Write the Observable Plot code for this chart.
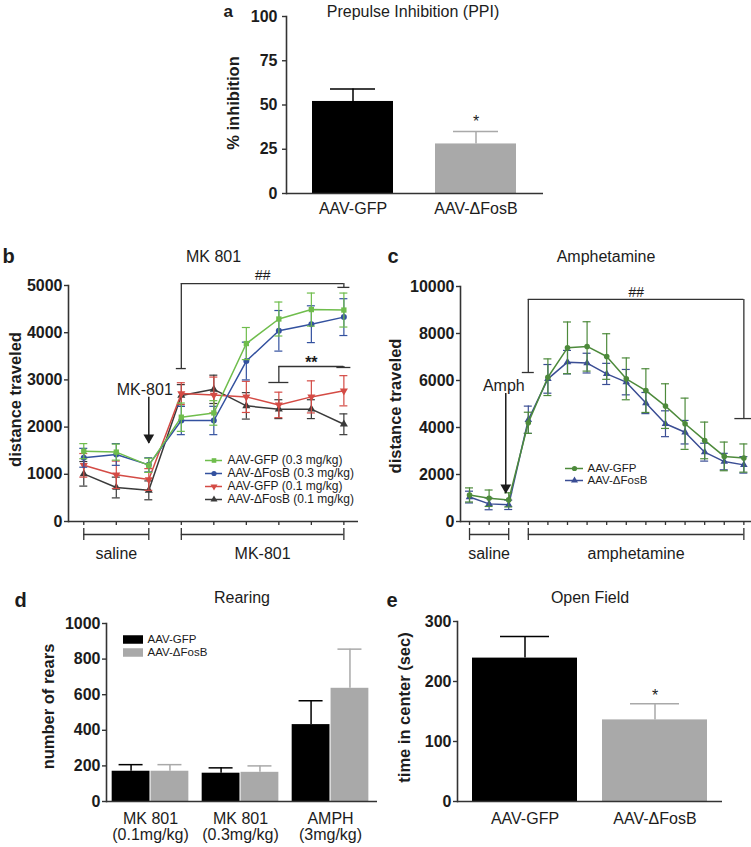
<!DOCTYPE html>
<html><head><meta charset="utf-8">
<script src="https://cdn.jsdelivr.net/npm/d3@7"></script>
<script src="https://cdn.jsdelivr.net/npm/@observablehq/plot@0.6"></script>
<style>
html,body{margin:0;padding:0;background:#fff;}
#fig{position:relative;width:751px;height:847px;overflow:hidden;background:#fff;}
#fig svg{position:absolute;overflow:visible;}
</style></head><body><div id="fig"></div>
<script>
// ================= DATA =================
// (a) Prepulse inhibition
const ppiGroups = ["AAV-GFP", "AAV-ΔFosB"];
const ppiMean = [52, 28];
const ppiSem = [7, 7];
const ppiTicks = [0, 25, 50, 75, 100];
const ppiStars = ["AAV-ΔFosB"];

// (b) MK 801 locomotion
const mkTime = [1, 2, 3, 4, 5, 6, 7, 8, 9];
const mkSeries = ["AAV-GFP (0.3 mg/kg)", "AAV-ΔFosB (0.3 mg/kg)", "AAV-GFP (0.1 mg/kg)", "AAV-ΔFosB (0.1 mg/kg)"];
const mkGfp03 = [1490, 1470, 1190, 2210, 2300, 3770, 4290, 4490, 4480];
const mkGfp03Sem = [160, 170, 150, 300, 260, 340, 360, 350, 360];
const mkFos03 = [1350, 1420, 1200, 2140, 2140, 3400, 4040, 4180, 4330];
const mkFos03Sem = [200, 230, 150, 300, 300, 400, 430, 390, 390];
const mkGfp01 = [1190, 990, 890, 2710, 2680, 2640, 2470, 2640, 2770];
const mkGfp01Sem = [250, 290, 230, 230, 380, 330, 270, 340, 320];
const mkFos01 = [1010, 720, 660, 2670, 2800, 2450, 2380, 2380, 2060];
const mkFos01Sem = [260, 220, 200, 230, 300, 280, 200, 200, 220];
const mkTicks = [0, 1000, 2000, 3000, 4000, 5000];
const mkPhases = [{label: "saline", x1: 1, x2: 3}, {label: "MK-801", x1: 4, x2: 9}];
const mkSigHash = [{label: "##", x1: 4, x2: 9, y: 5040, yLeft: 3240, yRight: 4960}];
const mkSigStar = [{label: "**", x1: 7, x2: 9, y: 3284, yLeft: 2945, yRight: 3263}];
const mkArrow = [{label: "MK-801", x: 3, y1: 2630, y2: 1650}];

// (c) Amphetamine locomotion
const amphTime = [1, 2, 3, 4, 5, 6, 7, 8, 9, 10, 11, 12, 13, 14, 15];
const amphSeries = ["AAV-GFP", "AAV-ΔFosB"];
const amphGfp = [1130, 990, 920, 4200, 6140, 7390, 7450, 7020, 6070, 5570, 4910, 4160, 3450, 2770, 2700];
const amphGfpSem = [300, 350, 300, 450, 780, 1100, 1050, 970, 890, 930, 950, 1090, 780, 610, 600];
const amphFos = [1040, 750, 710, 4330, 6070, 6780, 6740, 6280, 5930, 5040, 4160, 3800, 2950, 2550, 2410];
const amphFosSem = [250, 250, 200, 580, 610, 500, 420, 450, 540, 450, 550, 500, 380, 350, 350];
const amphTicks = [0, 2000, 4000, 6000, 8000, 10000];
const amphPhases = [{label: "saline", x1: 1, x2: 3}, {label: "amphetamine", x1: 4, x2: 15}];
const amphSig = [{label: "##", x1: 4, x2: 15, y: 9450, yLeft: 6340, yRight: 4380}];
const amphArrow = [{label: "Amph", x: 2.85, y1: 5450, y2: 1190}];

// (d) Rearing
const rearGroups = ["MK 801\n(0.1mg/kg)", "MK 801\n(0.3mg/kg)", "AMPH\n(3mg/kg)"];
const rearSeries = ["AAV-GFP", "AAV-ΔFosB"];
const rearGfp = [170, 159, 432];
const rearGfpSem = [37, 30, 134];
const rearFos = [170, 164, 636];
const rearFosSem = [37, 36, 220];
const rearTicks = [0, 200, 400, 600, 800, 1000];

// (e) Open field
const ofGroups = ["AAV-GFP", "AAV-ΔFosB"];
const ofMean = [239, 136];
const ofSem = [36, 27];
const ofTicks = [0, 100, 200, 300];
const ofStars = ["AAV-ΔFosB"];

// ================= STYLE =================
const FONT = "'Liberation Sans', Arial, Helvetica, sans-serif";
const INK = "#1c1c1c";
const AX = "#333";
const barColors = ["#000000", "#a9a9a9"];
const mkColors = ["#6fbd4c", "#33519f", "#d44b45", "#3a3a3a"];
const amphColors = ["#4d8a3b", "#3a4d94"];
const fig = document.getElementById("fig");

function place(svg, left, top) {
  svg.style.left = left + "px";
  svg.style.top = top + "px";
  fig.appendChild(svg);
}
function plot(o) {
  return Plot.plot({...o, style: {fontFamily: FONT, fontSize: "16px", color: INK, background: "none", overflow: "visible"}});
}
function yAxis(ticks, pad = 2) {
  return [
    Plot.frame({anchor: "left", stroke: AX, strokeWidth: 1.6}),
    Plot.ruleY([0], {stroke: AX, strokeWidth: 1.6}),
    Plot.axisY({ticks, tickSize: 4, tickPadding: pad, tickFormat: d => String(d), fontWeight: "bold", fontSize: 16, label: null, stroke: AX, strokeWidth: 1.4})
  ];
}
function headers(letter, title, ylabel, {ldx, ldy, tdy, ydx, ydy = 0, tdx = 0, lsize = 20}) {
  return [
    Plot.text([letter], {text: d => d, frameAnchor: "top-left", dx: ldx, dy: ldy, textAnchor: "start", lineAnchor: "bottom", fontWeight: "bold", fontSize: lsize}),
    Plot.text([title], {text: d => d, frameAnchor: "top", dx: tdx, dy: tdy, lineAnchor: "bottom", fontSize: 16}),
    Plot.text([ylabel], {text: d => d, frameAnchor: "left", dx: ydx, dy: ydy, rotate: -90, textAnchor: "middle", lineAnchor: "middle", fontWeight: "bold", fontSize: 16.5})
  ];
}
function errorBars(data, {x, y, e, stroke, cap = 4, width = 1.2}) {
  return [
    Plot.ruleX(data, {x, y1: d => d[y] - d[e], y2: d => d[y] + d[e], stroke, strokeWidth: width}),
    Plot.ruleY(data, {x1: x, x2: x, y: d => d[y] + d[e], insetLeft: -cap, insetRight: -cap, stroke, strokeWidth: width}),
    Plot.ruleY(data, {x1: x, x2: x, y: d => d[y] - d[e], insetLeft: -cap, insetRight: -cap, stroke, strokeWidth: width})
  ];
}
function sigBracket(data, {capL = 5, capR = 6, textDy = -7, fontSize = 14, fontStyle = "italic", fontWeight = "normal"}) {
  const s = {stroke: AX, strokeWidth: 1.3};
  return [
    Plot.ruleY(data, {x1: "x1", x2: "x2", y: "y", ...s}),
    Plot.ruleX(data, {x: "x1", y1: "yLeft", y2: "y", ...s}),
    Plot.ruleX(data, {x: "x2", y1: "yRight", y2: "y", ...s}),
    Plot.ruleY(data, {x1: "x1", x2: "x1", y: "yLeft", insetLeft: -capL, insetRight: -capL, ...s}),
    Plot.ruleY(data, {x1: "x2", x2: "x2", y: "yRight", insetLeft: -capR, insetRight: -capR, ...s}),
    Plot.text(data, {x: d => (d.x1 + d.x2) / 2, y: "y", text: "label", dy: textDy, fontSize, fontStyle, fontWeight})
  ];
}
function phaseBrackets(data) {
  const s = {stroke: AX, strokeWidth: 1.3, dy: 13};
  return [
    Plot.ruleY(data, {x1: "x1", x2: "x2", y: 0, ...s}),
    Plot.ruleX(data, {x: "x1", y1: 0, y2: 0, insetTop: -6, insetBottom: -6, ...s}),
    Plot.ruleX(data, {x: "x2", y1: 0, y2: 0, insetTop: -6, insetBottom: -6, ...s}),
    Plot.text(data, {x: d => (d.x1 + d.x2) / 2, y: 0, text: "label", dy: 32, fontSize: 16})
  ];
}
function arrowNote(data, {dx = 0}) {
  return [
    Plot.ruleX(data, {x: "x", y1: "y1", y2: "y2", stroke: INK, strokeWidth: 1.5}),
    Plot.dot(data, {x: "x", y: "y2", symbol: "triangle", rotate: 180, r: 4, fill: INK, dy: -6}),
    Plot.text(data, {x: "x", y: "y1", text: "label", lineAnchor: "bottom", dy: -2, dx, fontSize: 16})
  ];
}

// ================= PANEL a =================
const ppi = ppiGroups.map((g, i) => ({group: g, mean: ppiMean[i], sem: ppiSem[i]}));
place(plot({
  width: 380, height: 230, marginLeft: 106, marginRight: 17, marginTop: 16, marginBottom: 37,
  x: {domain: ppiGroups, paddingInner: 0.341, paddingOuter: 0.211},
  y: {domain: [0, 100]},
  color: {domain: ppiGroups, range: barColors},
  marks: [
    Plot.ruleX(ppi, {x: "group", y1: "mean", y2: d => d.mean + d.sem, stroke: "group", strokeWidth: 1.5}),
    Plot.tickY(ppi, {x: "group", y: d => d.mean + d.sem, stroke: "group", strokeWidth: 1.5, insetLeft: 18, insetRight: 18}),
    Plot.barY(ppi, {x: "group", y: "mean", fill: "group"}),
    Plot.text(ppi.filter(d => ppiStars.includes(d.group)), {x: "group", y: d => d.mean + d.sem, text: () => "*", dy: -10, fontSize: 16}),
    ...yAxis(ppiTicks, 5),
    Plot.axisX({tickSize: 0, tickPadding: 9, fontSize: 16, label: null}),
    ...headers("a", "Prepulse Inhibition (PPI)", "% inhibition", {ldx: -63, ldy: 0, tdy: 0, ydx: -53, ydy: -2, tdx: -2, lsize: 17})
  ]
}), 180, 0);

// ================= PANEL b =================
const mkValues = [mkGfp03, mkFos03, mkGfp01, mkFos01];
const mkSems = [mkGfp03Sem, mkFos03Sem, mkGfp01Sem, mkFos01Sem];
const mkSymbols = ["square", "circle", "triangle", "triangle"];
const mkRotate = [0, 0, 180, 0];
const mk = mkSeries.flatMap((s, k) => mkTime.map((t, i) => ({series: s, t, v: mkValues[k][i], e: mkSems[k][i]})));
const mkDrawOrder = [3, 2, 1, 0];
place(plot({
  width: 380, height: 330, marginLeft: 68, marginRight: 22, marginTop: 45, marginBottom: 49,
  x: {domain: [0.53, 9.45]},
  y: {domain: [0, 5000]},
  color: {domain: mkSeries, range: mkColors},
  marks: [
    ...yAxis(mkTicks),
    Plot.axisX({ticks: mkTime, tickSize: 4, tickFormat: () => "", label: null, stroke: AX, strokeWidth: 1.3}),
    ...mkDrawOrder.flatMap(k => {
      const d = mk.filter(r => r.series === mkSeries[k]);
      return [
        ...errorBars(d, {x: "t", y: "v", e: "e", stroke: "series"}),
        Plot.line(d, {x: "t", y: "v", stroke: "series", strokeWidth: 1.5}),
        Plot.dot(d, {x: "t", y: "v", fill: "series", symbol: mkSymbols[k], rotate: mkRotate[k], r: 3})
      ];
    }),
    ...sigBracket(mkSigHash, {capL: 5, capR: 6, textDy: -8}),
    ...sigBracket(mkSigStar, {capL: 10, capR: 7, textDy: -4, fontStyle: "normal", fontWeight: "bold", fontSize: 16}),
    ...arrowNote(mkArrow, {dx: -4}),
    ...phaseBrackets(mkPhases),
    ...headers("b", "MK 801", "distance traveled", {ldx: -66, ldy: -23, tdy: -24, ydx: -53, ydy: -4})
  ]
}), 0, 240);

// legend b
place(plot({
  width: 170, height: 55, margin: 0,
  x: {domain: [0, 1], axis: null},
  y: {type: "point", domain: mkSeries, padding: 0.5, axis: null},
  color: {domain: mkSeries, range: mkColors},
  marks: [
    Plot.ruleY(mkSeries, {y: d => d, stroke: d => d, strokeWidth: 1.5, insetLeft: 5, insetRight: 148}),
    ...mkSeries.map((s, k) => Plot.dot([s], {y: d => d, frameAnchor: "left", dx: 13.5, fill: d => d, symbol: mkSymbols[k], rotate: mkRotate[k], r: 2.6})),
    Plot.text(mkSeries, {y: d => d, text: d => d, frameAnchor: "left", dx: 27, textAnchor: "start", fontSize: 12})
  ]
}), 200, 452);

// ================= PANEL c =================
const amphValues = [amphGfp, amphFos];
const amphSems = [amphGfpSem, amphFosSem];
const amphSymbols = ["circle", "triangle"];
const amph = amphSeries.flatMap((s, k) => amphTime.map((t, i) => ({series: s, t, v: amphValues[k][i], e: amphSems[k][i]})));
place(plot({
  width: 371, height: 330, marginLeft: 80, marginRight: 0, marginTop: 46, marginBottom: 49,
  x: {domain: [0.54, 15.39]},
  y: {domain: [0, 10000]},
  color: {domain: amphSeries, range: amphColors},
  marks: [
    ...yAxis(amphTicks),
    Plot.axisX({ticks: amphTime, tickSize: 4, tickFormat: () => "", label: null, stroke: AX, strokeWidth: 1.3}),
    ...[1, 0].flatMap(k => {
      const d = amph.filter(r => r.series === amphSeries[k]);
      return [
        ...errorBars(d, {x: "t", y: "v", e: "e", stroke: "series"}),
        Plot.line(d, {x: "t", y: "v", stroke: "series", strokeWidth: 1.5}),
        Plot.dot(d, {x: "t", y: "v", fill: "series", symbol: amphSymbols[k], r: 2.8})
      ];
    }),
    ...sigBracket(amphSig, {capL: 6, capR: 9, textDy: -7}),
    ...arrowNote(amphArrow, {dx: -2}),
    ...phaseBrackets(amphPhases),
    ...headers("c", "Amphetamine", "distance traveled", {ldx: -73, ldy: -24, tdy: -25, ydx: -65, ydy: 2})
  ]
}), 380, 240);

// legend c
place(plot({
  width: 110, height: 24, margin: 0,
  x: {domain: [0, 1], axis: null},
  y: {type: "point", domain: amphSeries, padding: 0.5, axis: null},
  color: {domain: amphSeries, range: amphColors},
  marks: [
    Plot.ruleY(amphSeries, {y: d => d, stroke: d => d, strokeWidth: 1.5, insetLeft: 0, insetRight: 92}),
    ...amphSeries.map((s, k) => Plot.dot([s], {y: d => d, frameAnchor: "left", dx: 9, fill: d => d, symbol: amphSymbols[k], r: 2.6})),
    Plot.text(amphSeries, {y: d => d, text: d => d, frameAnchor: "left", dx: 22, textAnchor: "start", fontSize: 11.5})
  ]
}), 565, 462);

// ================= PANEL d =================
const rearMeans = [rearGfp, rearFos];
const rearSems = [rearGfpSem, rearFosSem];
const rear = rearGroups.flatMap((g, gi) => rearSeries.map((s, si) => ({group: g, gi: gi + 1, series: s, side: si === 0 ? -1 : 1, mean: rearMeans[si][gi], sem: rearSems[si][gi]})));
const BAR_W = 0.42, BAR_GAP = 0.006;
const barLo = d => d.gi + (d.side < 0 ? -BAR_W - BAR_GAP : BAR_GAP);
const barHi = d => d.gi + (d.side < 0 ? -BAR_GAP : BAR_W + BAR_GAP);
const barMid = d => (barLo(d) + barHi(d)) / 2;
place(plot({
  width: 380, height: 267, marginLeft: 106, marginRight: 3, marginTop: 43, marginBottom: 46,
  x: {domain: [0.511, 3.522]},
  y: {domain: [0, 1000]},
  color: {domain: rearSeries, range: barColors},
  marks: [
    Plot.ruleX(rear, {x: barMid, y1: "mean", y2: d => d.mean + d.sem, stroke: "series", strokeWidth: 1.5}),
    Plot.ruleY(rear, {x1: barMid, x2: barMid, y: d => d.mean + d.sem, insetLeft: -12, insetRight: -12, stroke: "series", strokeWidth: 1.5}),
    Plot.rectY(rear, {x1: barLo, x2: barHi, y: "mean", fill: "series"}),
    ...yAxis(rearTicks),
    Plot.axisX({ticks: [1, 2, 3], tickFormat: i => rearGroups[i - 1], tickSize: 0, tickPadding: 11, fontSize: 16, lineHeight: 1, label: null}),
    ...headers("d", "Rearing", "number of rears", {ldx: -92, ldy: -17, tdy: -21, ydx: -58, ydy: -6})
  ]
}), 0, 580);

// legend d
place(plot({
  width: 120, height: 26, margin: 0,
  x: {domain: [0, 1], axis: null},
  y: {type: "point", domain: rearSeries, padding: 0.5, axis: null},
  color: {domain: rearSeries, range: barColors},
  marks: [
    Plot.ruleY(rearSeries, {y: d => d, stroke: d => d, strokeWidth: 8.5, insetLeft: 13, insetRight: 87}),
    Plot.text(rearSeries, {y: d => d, text: d => d, frameAnchor: "left", dx: 37, textAnchor: "start", fontSize: 11.5})
  ]
}), 110, 632);

// ================= PANEL e =================
const of = ofGroups.map((g, i) => ({group: g, mean: ofMean[i], sem: ofSem[i]}));
place(plot({
  width: 371, height: 267, marginLeft: 77, marginRight: 29, marginTop: 41, marginBottom: 46,
  x: {domain: ofGroups, paddingInner: 0.192, paddingOuter: 0.115},
  y: {domain: [0, 300]},
  color: {domain: ofGroups, range: barColors},
  marks: [
    Plot.ruleX(of, {x: "group", y1: "mean", y2: d => d.mean + d.sem, stroke: "group", strokeWidth: 1.5}),
    Plot.tickY(of, {x: "group", y: d => d.mean + d.sem, stroke: "group", strokeWidth: 1.5, insetLeft: 28, insetRight: 28}),
    Plot.barY(of, {x: "group", y: "mean", fill: "group"}),
    Plot.text(of.filter(d => ofStars.includes(d.group)), {x: "group", y: d => d.mean + d.sem, text: () => "*", dy: -8, fontSize: 16}),
    ...yAxis(ofTicks),
    Plot.axisX({tickSize: 0, tickPadding: 11, fontSize: 16, label: null}),
    ...headers("e", "Open Field", "time in center (sec)", {ldx: -71, ldy: -15, tdy: -19, ydx: -53, ydy: -4})
  ]
}), 380, 580);
</script></body></html>
